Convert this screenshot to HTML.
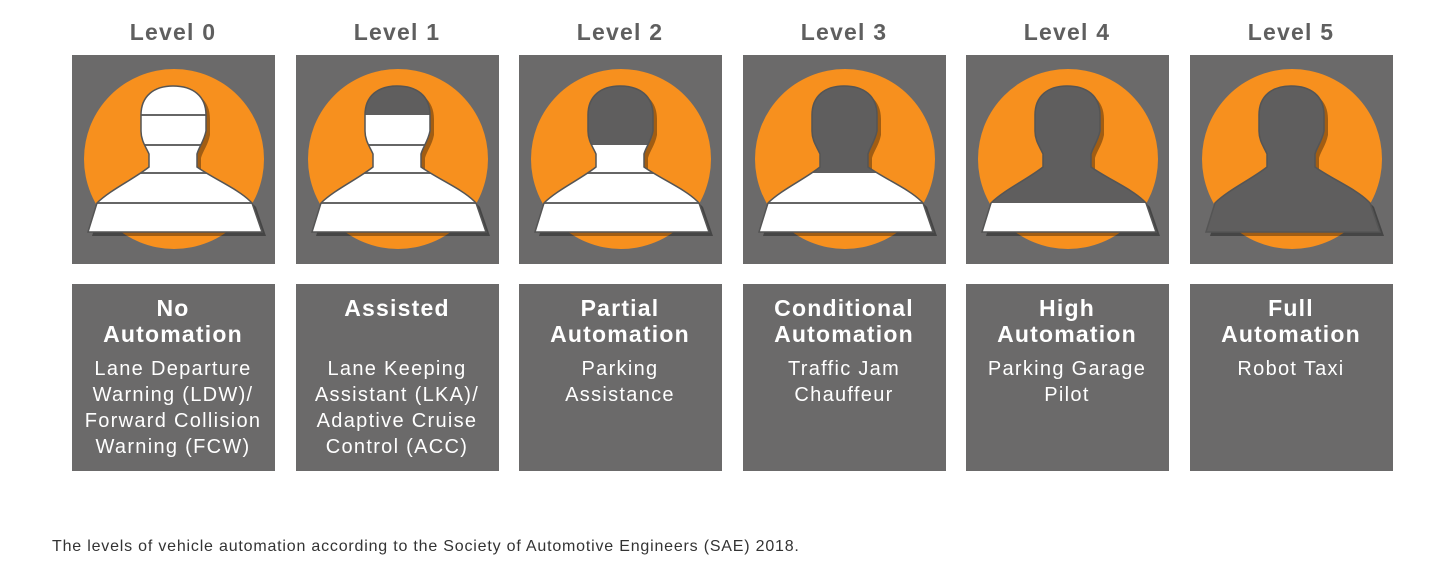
<!DOCTYPE html>
<html><head><meta charset="utf-8"><style>
html,body{margin:0;padding:0;background:#fff;width:1430px;height:565px;overflow:hidden}
svg{display:block}
.lv{font-family:"Liberation Sans",sans-serif;font-weight:bold;font-size:23px;letter-spacing:1.2px;fill:#5f5f5f;text-anchor:middle}
.t{font-family:"Liberation Sans",sans-serif;font-weight:bold;font-size:23px;letter-spacing:1.2px;fill:#fff;text-anchor:middle}
.s{font-family:"Liberation Sans",sans-serif;font-size:20px;letter-spacing:1.3px;fill:#fff;text-anchor:middle}
.cap{font-family:"Liberation Sans",sans-serif;font-size:16px;letter-spacing:0.8px;fill:#333}
</style></head><body>
<svg width="1430" height="565" viewBox="0 0 1430 565" xmlns="http://www.w3.org/2000/svg">
<defs>
<path id="sil" d="M101,31 C121,31 134,41 134,60 L134,76 C132,86 127,92 125,99 L125,112 C142,124 166,134 178,146 L180,148 L190,177 L16,177 L25,148 C38,135 62,124 77,112 L77,99 C74,92 69,86 69,76 L69,60 C69,41 82,31 101,31 Z"/>
<clipPath id="cs"><use href="#sil"/></clipPath>
<g id="icon">
<rect x="0" y="0" width="203" height="209" fill="#6b6a6a"/>
<circle cx="102" cy="104" r="90" fill="#f7901e"/>
<use href="#sil" transform="translate(4,4)" fill="#000" opacity="0.35"/>
</g>
</defs>
<g transform="translate(72,55)"><use href="#icon"/>
<g clip-path="url(#cs)"><rect x="0" y="0" width="203" height="200" fill="#fff"/></g>
<g clip-path="url(#cs)" stroke="#666" stroke-width="2"><line x1="0" y1="60" x2="203" y2="60"/><line x1="0" y1="90" x2="203" y2="90"/><line x1="0" y1="118" x2="203" y2="118"/><line x1="0" y1="148" x2="203" y2="148"/></g>
<use href="#sil" fill="none" stroke="#555" stroke-width="1.5"/></g>

<g transform="translate(296,55)"><use href="#icon"/>
<g clip-path="url(#cs)"><rect x="0" y="0" width="203" height="200" fill="#fff"/><rect x="0" y="0" width="203" height="60" fill="#5f5e5e"/></g>
<g clip-path="url(#cs)" stroke="#666" stroke-width="2"><line x1="0" y1="90" x2="203" y2="90"/><line x1="0" y1="118" x2="203" y2="118"/><line x1="0" y1="148" x2="203" y2="148"/></g>
<use href="#sil" fill="none" stroke="#555" stroke-width="1.5"/></g>

<g transform="translate(519,55)"><use href="#icon"/>
<g clip-path="url(#cs)"><rect x="0" y="0" width="203" height="200" fill="#fff"/><rect x="0" y="0" width="203" height="90" fill="#5f5e5e"/></g>
<g clip-path="url(#cs)" stroke="#666" stroke-width="2"><line x1="0" y1="118" x2="203" y2="118"/><line x1="0" y1="148" x2="203" y2="148"/></g>
<use href="#sil" fill="none" stroke="#555" stroke-width="1.5"/></g>

<g transform="translate(743,55)"><use href="#icon"/>
<g clip-path="url(#cs)"><rect x="0" y="0" width="203" height="200" fill="#fff"/><rect x="0" y="0" width="203" height="118" fill="#5f5e5e"/></g>
<g clip-path="url(#cs)" stroke="#666" stroke-width="2"><line x1="0" y1="148" x2="203" y2="148"/></g>
<use href="#sil" fill="none" stroke="#555" stroke-width="1.5"/></g>

<g transform="translate(966,55)"><use href="#icon"/>
<g clip-path="url(#cs)"><rect x="0" y="0" width="203" height="200" fill="#fff"/><rect x="0" y="0" width="203" height="148" fill="#5f5e5e"/></g>
<use href="#sil" fill="none" stroke="#555" stroke-width="1.5"/></g>

<g transform="translate(1190,55)"><use href="#icon"/>
<g clip-path="url(#cs)"><rect x="0" y="0" width="203" height="200" fill="#5f5e5e"/></g>
<use href="#sil" fill="none" stroke="#555" stroke-width="1.5"/></g>

<text class="lv" x="173" y="40">Level 0</text>
<text class="lv" x="397" y="40">Level 1</text>
<text class="lv" x="620" y="40">Level 2</text>
<text class="lv" x="844" y="40">Level 3</text>
<text class="lv" x="1067" y="40">Level 4</text>
<text class="lv" x="1291" y="40">Level 5</text>

<g fill="#6b6a6a">
<rect x="72" y="284" width="203" height="187"/>
<rect x="296" y="284" width="203" height="187"/>
<rect x="519" y="284" width="203" height="187"/>
<rect x="743" y="284" width="203" height="187"/>
<rect x="966" y="284" width="203" height="187"/>
<rect x="1190" y="284" width="203" height="187"/>
</g>
<text class="t" x="173" y="316">No</text><text class="t" x="173" y="342">Automation</text>
<text class="s" x="173" y="375">Lane Departure</text><text class="s" x="173" y="401">Warning (LDW)/</text><text class="s" x="173" y="427">Forward Collision</text><text class="s" x="173" y="453">Warning (FCW)</text>

<text class="t" x="397" y="316">Assisted</text>
<text class="s" x="397" y="375">Lane Keeping</text><text class="s" x="397" y="401">Assistant (LKA)/</text><text class="s" x="397" y="427">Adaptive Cruise</text><text class="s" x="397" y="453">Control (ACC)</text>

<text class="t" x="620" y="316">Partial</text><text class="t" x="620" y="342">Automation</text>
<text class="s" x="620" y="375">Parking</text><text class="s" x="620" y="401">Assistance</text>

<text class="t" x="844" y="316">Conditional</text><text class="t" x="844" y="342">Automation</text>
<text class="s" x="844" y="375">Traffic Jam</text><text class="s" x="844" y="401">Chauffeur</text>

<text class="t" x="1067" y="316">High</text><text class="t" x="1067" y="342">Automation</text>
<text class="s" x="1067" y="375">Parking Garage</text><text class="s" x="1067" y="401">Pilot</text>

<text class="t" x="1291" y="316">Full</text><text class="t" x="1291" y="342">Automation</text>
<text class="s" x="1291" y="375">Robot Taxi</text>

<text class="cap" x="52" y="551">The levels of vehicle automation according to the Society of Automotive Engineers (SAE) 2018.</text>
</svg>
</body></html>
